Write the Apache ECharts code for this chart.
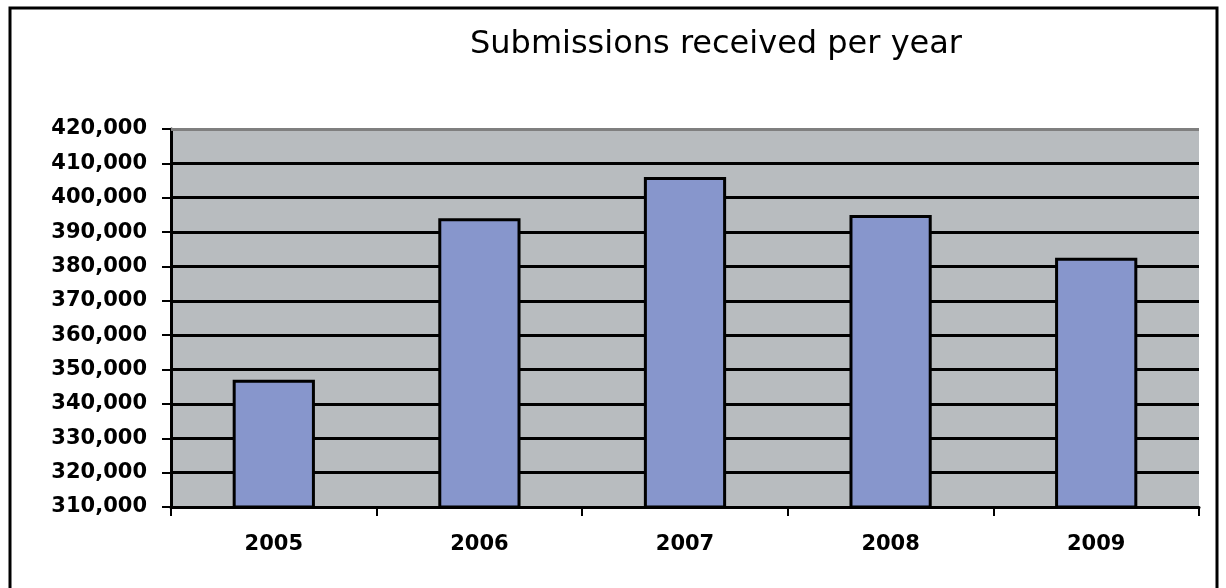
<!DOCTYPE html>
<html>
<head>
<meta charset="utf-8">
<script src="https://cdn.jsdelivr.net/npm/echarts@6/dist/echarts.min.js"></script>
<style>
  html, body { margin: 0; padding: 0; background: #fff; }
  #main { width: 1226px; height: 588px; }
</style>
</head>
<body>
<div id="main"></div>
<script>
// data
var years = ['2005', '2006', '2007', '2008', '2009'];
var submissions = [347000, 394000, 406000, 395000, 382500];

var chart = echarts.init(document.getElementById('main'));

var option = {
    backgroundColor: '#fff',
    animation: false,
    title: {
        text: 'Submissions received per year',
        left: 711,
        top: 24,
        textAlign: 'center',
        textStyle: {
            fontFamily: 'DejaVu Sans',
            fontWeight: 'normal',
            fontSize: 32,
            color: '#000'
        }
    },
    graphic: [{
        type: 'rect',
        shape: { x: 10, y: 8, width: 1207, height: 590 },
        style: { fill: 'none', stroke: '#000', lineWidth: 3 },
        silent: true
    }],
    grid: {
        left: 171,
        right: 27,
        top: 129,
        bottom: 81,
        show: true,
        backgroundColor: '#b8bcbf',
        borderWidth: 0
    },
    xAxis: {
        type: 'category',
        data: years,
        axisLine: { lineStyle: { color: '#000', width: 3 } },
        axisTick: { show: true, length: 9, alignWithLabel: false, lineStyle: { color: '#000', width: 2 } },
        axisLabel: {
            margin: 27,
            fontFamily: 'DejaVu Sans',
            fontWeight: 'bold',
            fontSize: 21,
            color: '#000'
        }
    },
    yAxis: {
        type: 'value',
        min: 310000,
        max: 420000,
        interval: 10000,
        axisLine: { show: true, lineStyle: { color: '#000', width: 3 } },
        axisTick: { show: true, length: 9, lineStyle: { color: '#000', width: 2 } },
        splitLine: { lineStyle: { color: '#000', width: 3 } },
        axisLabel: {
            margin: 24,
            fontFamily: 'DejaVu Sans',
            fontWeight: 'bold',
            fontSize: 21,
            color: '#000',
            formatter: function (v) { return v.toLocaleString('en-US'); }
        }
    },
    series: [{
        name: 'Submissions',
        type: 'bar',
        data: submissions,
        barWidth: '40%',
        itemStyle: {
            color: '#8796cc',
            borderColor: '#000',
            borderWidth: 3
        }
    },
    {
        // gray top edge of the plot area
        type: 'line',
        data: [],
        markLine: {
            silent: true,
            symbol: 'none',
            label: { show: false },
            lineStyle: { color: '#7f7f7f', width: 3, type: 'solid' },
            data: [{ yAxis: 420000 }]
        }
    }]
};

chart.setOption(option);
</script>
</body>
</html>
